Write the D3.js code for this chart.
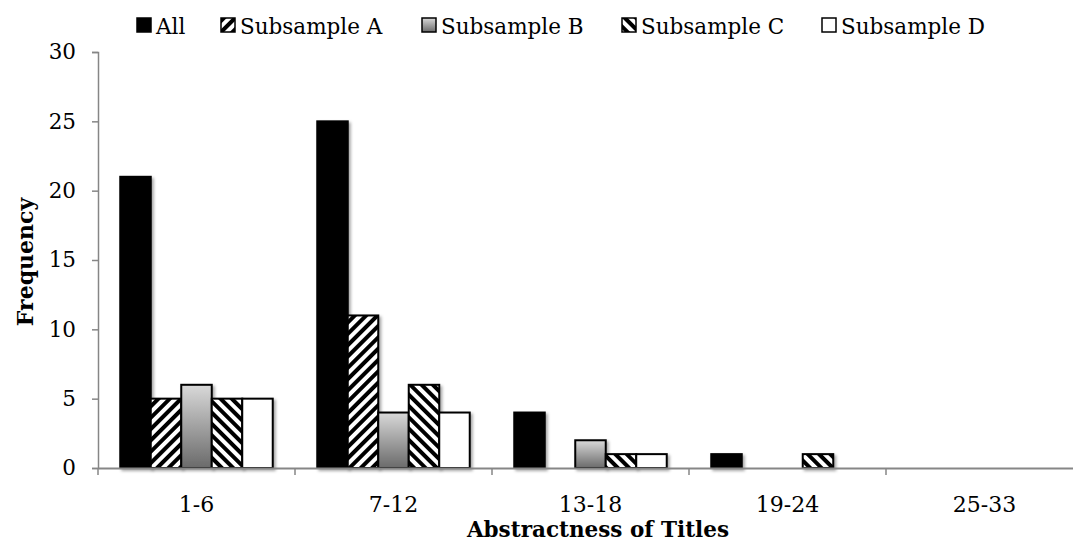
<!DOCTYPE html>
<html><head><meta charset="utf-8">
<script src="https://cdn.jsdelivr.net/npm/d3@7"></script>
<style>body{margin:0;background:#fff}svg{display:block}</style>
</head><body>
<svg id="chart" width="1073" height="542"></svg>
<script>
const categories = ["1-6","7-12","13-18","19-24","25-33"];
const seriesNames = ["All","Subsample A","Subsample B","Subsample C","Subsample D"];
const valuesAll = [21,25,4,1,0];
const valuesA = [5,11,0,0,0];
const valuesB = [6,4,2,0,0];
const valuesC = [5,6,1,1,0];
const valuesD = [5,4,1,0,0];
const yTicks = [0,5,10,15,20,25,30];
const xTitle = "Abstractness of Titles";
const yTitle = "Frequency";

const seriesValues = [valuesAll, valuesA, valuesB, valuesC, valuesD];
const FONT = "'DejaVu Serif', serif";
const svg = d3.select("#chart");
const defs = svg.append("defs");

function hatch(id, angle){
  const p = defs.append("pattern").attr("id", id).attr("patternUnits","userSpaceOnUse")
    .attr("width", 8).attr("height", 8).attr("patternTransform", `rotate(${angle})`);
  p.append("rect").attr("width",8).attr("height",8).attr("fill","#fff");
  p.append("rect").attr("width",4).attr("height",8).attr("fill","#000");
}
hatch("hatchA", 45);
hatch("hatchC", -45);
const g1 = defs.append("linearGradient").attr("id","gradB").attr("x1",0).attr("y1",0).attr("x2",0).attr("y2",1);
g1.append("stop").attr("offset","0%").attr("stop-color","#d9d9d9");
g1.append("stop").attr("offset","100%").attr("stop-color","#6a6a6a");
const f = defs.append("filter").attr("id","shadow").attr("x","-20%").attr("y","-20%").attr("width","160%").attr("height","160%");
f.append("feDropShadow").attr("dx",2).attr("dy",2).attr("stdDeviation",1.5).attr("flood-color","#000").attr("flood-opacity",0.35);

const fills = ["#000","url(#hatchA)","url(#gradB)","url(#hatchC)","#fff"];

const x = d3.scaleBand().domain(categories).range([98, 1083]).paddingInner(0).paddingOuter(0);
const xs = d3.scaleBand().domain(seriesNames).range([0, x.bandwidth()]).paddingInner(0).paddingOuter(0.73);
const y = d3.scaleLinear().domain([0,30]).range([468, 52]);

// bars
const rows = [];
categories.forEach((c,i)=>seriesNames.forEach((s,j)=>{ if(seriesValues[j][i]>0) rows.push({c,s,j,v:seriesValues[j][i]}); }));
svg.append("g").selectAll("rect").data(rows).join("rect")
  .attr("x", d=>x(d.c)+xs(d.s))
  .attr("y", d=>y(d.v))
  .attr("width", xs.bandwidth())
  .attr("height", d=>y(0)-y(d.v))
  .attr("fill", d=>fills[d.j])
  .attr("stroke","#000").attr("stroke-width",2)
  .attr("filter","url(#shadow)");

// y axis
const yAxis = svg.append("g").attr("transform","translate(98,0)")
  .call(d3.axisLeft(y).tickValues(yTicks).tickSize(6).tickPadding(16));
yAxis.select(".domain").attr("stroke","#868686").attr("stroke-width",1.5);
yAxis.selectAll(".tick line").attr("stroke","#868686").attr("stroke-width",1.5);
yAxis.selectAll("text").attr("font-family",FONT).attr("font-size",21.5).attr("fill","#000");

// x axis
const xAxis = svg.append("g").attr("transform","translate(0,468)")
  .call(d3.axisBottom(x).tickSize(0).tickPadding(28));
xAxis.select(".domain").attr("stroke","#868686").attr("stroke-width",2);
xAxis.selectAll("text").attr("font-family",FONT).attr("font-size",22).attr("fill","#000");
// boundary ticks
svg.append("g").selectAll("line").data(categories.slice(1)).join("line")
  .attr("x1", d=>x(d)).attr("x2", d=>x(d)).attr("y1",468).attr("y2",475)
  .attr("stroke","#868686").attr("stroke-width",1.5);
svg.append("line").attr("x1",98).attr("x2",98).attr("y1",468).attr("y2",475).attr("stroke","#868686").attr("stroke-width",1.5);

// titles
svg.append("text").attr("x",598).attr("y",537).attr("text-anchor","middle")
  .attr("font-family",FONT).attr("font-weight","bold").attr("font-size",21.5).text(xTitle);
svg.append("text").attr("transform","translate(33,262) rotate(-90)").attr("text-anchor","middle")
  .attr("font-family",FONT).attr("font-weight","bold").attr("font-size",22).text(yTitle);

// legend
const legX = [137, 221, 422, 622, 822];
const leg = svg.append("g").selectAll("g").data(seriesNames).join("g")
  .attr("transform",(d,i)=>`translate(${legX[i]},18)`);
leg.append("rect").attr("width",14).attr("height",14).attr("fill",(d,i)=>fills[i])
  .attr("stroke","#000").attr("stroke-width",1.5);
leg.append("text").attr("x",19).attr("y",16).attr("font-family",FONT).attr("font-size",21.5).text(d=>d);
</script>
</body></html>
